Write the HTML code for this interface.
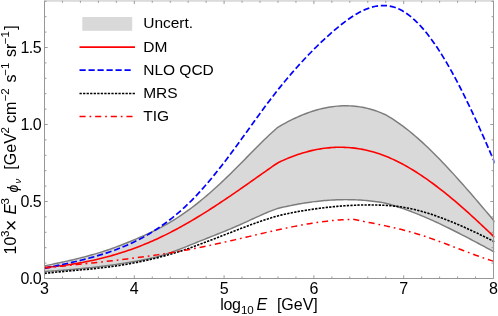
<!DOCTYPE html>
<html><head><meta charset="utf-8"><title>plot</title>
<style>
html,body{margin:0;padding:0;background:#fff;}
body{width:498px;height:316px;overflow:hidden;}
svg{display:block;will-change:transform;}
text{font-family:"Liberation Sans",sans-serif;font-size:16px;fill:#000;}
.it{font-style:italic;}
.lg text{font-size:15.5px;}
</style></head><body>
<svg width="498" height="316" viewBox="0 0 498 316">
<rect width="498" height="316" fill="#fff"/>
<defs><clipPath id="c"><rect x="44.5" y="0" width="450" height="278"/></clipPath></defs>
<g clip-path="url(#c)" fill="none" stroke-linejoin="round">
<path d="M44.50 265.91L47.00 265.39L49.50 264.87L52.00 264.34L54.50 263.82L57.00 263.28L59.50 262.75L62.00 262.20L64.50 261.65L67.00 261.09L69.50 260.52L72.00 259.95L74.50 259.35L77.00 258.75L79.50 258.14L82.00 257.51L84.50 256.86L87.00 256.20L89.50 255.52L92.00 254.82L94.50 254.11L97.00 253.37L99.50 252.61L102.00 251.83L104.50 251.03L107.00 250.20L109.50 249.35L112.00 248.48L114.50 247.58L117.00 246.66L119.50 245.72L122.00 244.76L124.50 243.78L127.00 242.78L129.50 241.76L132.00 240.73L134.50 239.68L137.00 238.61L139.50 237.53L142.00 236.43L144.50 235.32L147.00 234.18L149.50 233.02L152.00 231.83L154.50 230.62L157.00 229.37L159.50 228.09L162.00 226.77L164.50 225.42L167.00 224.03L169.50 222.59L172.00 221.10L174.50 219.57L177.00 217.99L179.50 216.36L182.00 214.67L184.50 212.94L187.00 211.16L189.50 209.34L192.00 207.47L194.50 205.55L197.00 203.60L199.50 201.60L202.00 199.55L204.50 197.47L207.00 195.35L209.50 193.20L212.00 191.00L214.50 188.77L217.00 186.51L219.50 184.21L222.00 181.88L224.50 179.52L227.00 177.12L229.50 174.70L232.00 172.25L234.50 169.78L237.00 167.28L239.50 164.76L242.00 162.22L244.50 159.68L247.00 157.13L249.50 154.58L252.00 152.04L254.50 149.51L257.00 146.99L259.50 144.49L262.00 142.02L264.50 139.57L267.00 137.16L269.50 134.79L272.00 132.46L274.50 130.18L277.00 127.95L277.40 127.60L279.90 126.13L282.40 124.70L284.90 123.31L287.40 121.97L289.90 120.68L292.40 119.44L294.90 118.24L297.40 117.09L299.90 116.00L302.40 114.95L304.90 113.96L307.40 113.02L309.90 112.13L312.40 111.30L314.90 110.52L317.40 109.80L319.90 109.13L322.40 108.52L324.90 107.97L327.40 107.48L329.90 107.05L332.40 106.68L334.90 106.38L337.40 106.13L339.90 105.95L342.40 105.83L344.90 105.78L347.40 105.80L349.90 105.88L352.40 106.02L354.90 106.24L357.40 106.53L359.90 106.88L362.40 107.31L364.90 107.81L367.40 108.38L369.90 109.02L372.40 109.74L374.90 110.53L377.40 111.40L379.90 112.35L382.40 113.37L384.90 114.47L385.40 114.70L387.90 116.13L390.40 117.64L392.90 119.21L395.40 120.86L397.90 122.57L400.40 124.34L402.90 126.17L405.40 128.07L407.90 130.02L410.40 132.03L412.90 134.10L415.40 136.22L417.90 138.40L420.40 140.62L422.90 142.90L425.40 145.22L427.90 147.58L430.40 149.99L432.90 152.44L435.40 154.94L437.90 157.47L440.40 160.03L442.90 162.64L445.40 165.27L447.90 167.94L450.40 170.64L452.90 173.37L455.40 176.12L457.90 178.90L460.40 181.70L462.90 184.52L465.40 187.37L467.90 190.23L470.40 193.10L472.90 196.00L475.40 198.90L477.90 201.82L480.40 204.75L482.90 207.68L485.40 210.62L487.90 213.57L490.40 216.51L492.90 219.46L495.00 221.94L494.50 252.14L492.50 251.06L490.50 249.97L488.50 248.89L486.50 247.81L484.50 246.73L482.50 245.65L480.50 244.57L478.50 243.50L476.50 242.43L474.50 241.37L472.50 240.31L470.50 239.25L468.50 238.20L466.50 237.15L464.50 236.11L462.50 235.07L460.50 234.04L458.50 233.02L456.50 232.00L454.50 230.99L452.50 229.99L450.50 228.99L448.50 228.01L446.50 227.03L444.50 226.06L442.50 225.10L440.50 224.15L438.50 223.21L436.50 222.28L434.50 221.36L432.50 220.45L430.50 219.56L428.50 218.67L426.50 217.80L424.50 216.94L422.50 216.09L420.50 215.26L418.50 214.44L416.50 213.63L414.50 212.83L412.50 212.06L410.50 211.29L408.50 210.54L406.50 209.81L404.50 209.09L402.50 208.39L400.50 207.71L398.50 207.04L396.50 206.39L394.50 205.76L392.50 205.14L390.50 204.55L388.50 203.97L386.50 203.45L384.50 202.99L382.50 202.61L380.50 202.28L378.50 201.98L376.50 201.69L374.50 201.42L372.50 201.18L370.50 200.95L368.50 200.74L366.50 200.55L364.50 200.38L362.50 200.22L360.50 200.09L358.50 199.97L356.50 199.87L354.50 199.79L352.50 199.73L350.50 199.68L348.50 199.66L346.50 199.64L344.50 199.65L342.50 199.67L340.50 199.71L338.50 199.76L336.50 199.84L334.50 199.92L332.50 200.02L330.50 200.14L328.50 200.28L326.50 200.43L324.50 200.59L322.50 200.78L320.50 200.97L318.50 201.18L316.50 201.41L314.50 201.65L312.50 201.90L310.50 202.17L308.50 202.45L306.50 202.75L304.50 203.05L302.50 203.38L300.50 203.71L298.50 204.06L296.50 204.43L294.50 204.80L292.50 205.19L290.50 205.59L288.50 206.00L286.50 206.43L284.50 206.86L282.50 207.31L280.50 207.78L278.50 208.29L276.50 208.89L274.50 209.58L272.50 210.34L270.50 211.13L268.50 211.95L266.50 212.78L264.50 213.63L262.50 214.51L260.50 215.39L258.50 216.29L256.50 217.20L254.50 218.11L252.50 219.03L250.50 219.95L248.50 220.87L246.50 221.79L244.50 222.70L242.50 223.61L240.50 224.50L238.50 225.39L236.50 226.26L234.50 227.13L232.50 227.98L230.50 228.82L228.50 229.66L226.50 230.49L224.50 231.31L222.50 232.12L220.50 232.93L218.50 233.73L216.50 234.53L214.50 235.33L212.50 236.12L210.50 236.92L208.50 237.71L206.50 238.51L204.50 239.30L202.50 240.10L200.50 240.90L198.50 241.70L196.50 242.51L194.50 243.32L192.50 244.13L190.50 244.94L188.50 245.75L186.50 246.55L184.50 247.35L182.50 248.14L180.50 248.93L178.50 249.70L176.50 250.45L174.50 251.19L172.50 251.92L170.50 252.62L168.50 253.30L166.50 253.96L164.50 254.60L162.50 255.20L160.50 255.78L158.50 256.33L156.50 256.86L154.50 257.36L152.50 257.84L150.50 258.30L148.50 258.74L146.50 259.17L144.50 259.58L142.50 259.97L140.50 260.36L138.50 260.73L136.50 261.10L134.50 261.46L132.50 261.81L130.50 262.16L128.50 262.49L126.50 262.82L124.50 263.14L122.50 263.46L120.50 263.76L118.50 264.06L116.50 264.35L114.50 264.64L112.50 264.92L110.50 265.19L108.50 265.46L106.50 265.72L104.50 265.98L102.50 266.23L100.50 266.47L98.50 266.71L96.50 266.94L94.50 267.17L92.50 267.39L90.50 267.61L88.50 267.82L86.50 268.03L84.50 268.23L82.50 268.43L80.50 268.63L78.50 268.82L76.50 269.00L74.50 269.19L72.50 269.37L70.50 269.54L68.50 269.72L66.50 269.89L64.50 270.05L62.50 270.22L60.50 270.38L58.50 270.54L56.50 270.69L54.50 270.85L52.50 271.00L50.50 271.15L48.50 271.30L46.50 271.44L44.50 271.59Z" fill="#d9d9d9" stroke="none"/>
<path d="M44.50 265.91L47.00 265.39L49.50 264.87L52.00 264.34L54.50 263.82L57.00 263.28L59.50 262.75L62.00 262.20L64.50 261.65L67.00 261.09L69.50 260.52L72.00 259.95L74.50 259.35L77.00 258.75L79.50 258.14L82.00 257.51L84.50 256.86L87.00 256.20L89.50 255.52L92.00 254.82L94.50 254.11L97.00 253.37L99.50 252.61L102.00 251.83L104.50 251.03L107.00 250.20L109.50 249.35L112.00 248.48L114.50 247.58L117.00 246.66L119.50 245.72L122.00 244.76L124.50 243.78L127.00 242.78L129.50 241.76L132.00 240.73L134.50 239.68L137.00 238.61L139.50 237.53L142.00 236.43L144.50 235.32L147.00 234.18L149.50 233.02L152.00 231.83L154.50 230.62L157.00 229.37L159.50 228.09L162.00 226.77L164.50 225.42L167.00 224.03L169.50 222.59L172.00 221.10L174.50 219.57L177.00 217.99L179.50 216.36L182.00 214.67L184.50 212.94L187.00 211.16L189.50 209.34L192.00 207.47L194.50 205.55L197.00 203.60L199.50 201.60L202.00 199.55L204.50 197.47L207.00 195.35L209.50 193.20L212.00 191.00L214.50 188.77L217.00 186.51L219.50 184.21L222.00 181.88L224.50 179.52L227.00 177.12L229.50 174.70L232.00 172.25L234.50 169.78L237.00 167.28L239.50 164.76L242.00 162.22L244.50 159.68L247.00 157.13L249.50 154.58L252.00 152.04L254.50 149.51L257.00 146.99L259.50 144.49L262.00 142.02L264.50 139.57L267.00 137.16L269.50 134.79L272.00 132.46L274.50 130.18L277.00 127.95L277.40 127.60L279.90 126.13L282.40 124.70L284.90 123.31L287.40 121.97L289.90 120.68L292.40 119.44L294.90 118.24L297.40 117.09L299.90 116.00L302.40 114.95L304.90 113.96L307.40 113.02L309.90 112.13L312.40 111.30L314.90 110.52L317.40 109.80L319.90 109.13L322.40 108.52L324.90 107.97L327.40 107.48L329.90 107.05L332.40 106.68L334.90 106.38L337.40 106.13L339.90 105.95L342.40 105.83L344.90 105.78L347.40 105.80L349.90 105.88L352.40 106.02L354.90 106.24L357.40 106.53L359.90 106.88L362.40 107.31L364.90 107.81L367.40 108.38L369.90 109.02L372.40 109.74L374.90 110.53L377.40 111.40L379.90 112.35L382.40 113.37L384.90 114.47L385.40 114.70L387.90 116.13L390.40 117.64L392.90 119.21L395.40 120.86L397.90 122.57L400.40 124.34L402.90 126.17L405.40 128.07L407.90 130.02L410.40 132.03L412.90 134.10L415.40 136.22L417.90 138.40L420.40 140.62L422.90 142.90L425.40 145.22L427.90 147.58L430.40 149.99L432.90 152.44L435.40 154.94L437.90 157.47L440.40 160.03L442.90 162.64L445.40 165.27L447.90 167.94L450.40 170.64L452.90 173.37L455.40 176.12L457.90 178.90L460.40 181.70L462.90 184.52L465.40 187.37L467.90 190.23L470.40 193.10L472.90 196.00L475.40 198.90L477.90 201.82L480.40 204.75L482.90 207.68L485.40 210.62L487.90 213.57L490.40 216.51L492.90 219.46L495.00 221.94" stroke="#7c7c7c" stroke-width="1.45"/>
<path d="M44.50 271.59L46.50 271.44L48.50 271.30L50.50 271.15L52.50 271.00L54.50 270.85L56.50 270.69L58.50 270.54L60.50 270.38L62.50 270.22L64.50 270.05L66.50 269.89L68.50 269.72L70.50 269.54L72.50 269.37L74.50 269.19L76.50 269.00L78.50 268.82L80.50 268.63L82.50 268.43L84.50 268.23L86.50 268.03L88.50 267.82L90.50 267.61L92.50 267.39L94.50 267.17L96.50 266.94L98.50 266.71L100.50 266.47L102.50 266.23L104.50 265.98L106.50 265.72L108.50 265.46L110.50 265.19L112.50 264.92L114.50 264.64L116.50 264.35L118.50 264.06L120.50 263.76L122.50 263.46L124.50 263.14L126.50 262.82L128.50 262.49L130.50 262.16L132.50 261.81L134.50 261.46L136.50 261.10L138.50 260.73L140.50 260.36L142.50 259.97L144.50 259.58L146.50 259.17L148.50 258.74L150.50 258.30L152.50 257.84L154.50 257.36L156.50 256.86L158.50 256.33L160.50 255.78L162.50 255.20L164.50 254.60L166.50 253.96L168.50 253.30L170.50 252.62L172.50 251.92L174.50 251.19L176.50 250.45L178.50 249.70L180.50 248.93L182.50 248.14L184.50 247.35L186.50 246.55L188.50 245.75L190.50 244.94L192.50 244.13L194.50 243.32L196.50 242.51L198.50 241.70L200.50 240.90L202.50 240.10L204.50 239.30L206.50 238.51L208.50 237.71L210.50 236.92L212.50 236.12L214.50 235.33L216.50 234.53L218.50 233.73L220.50 232.93L222.50 232.12L224.50 231.31L226.50 230.49L228.50 229.66L230.50 228.82L232.50 227.98L234.50 227.13L236.50 226.26L238.50 225.39L240.50 224.50L242.50 223.61L244.50 222.70L246.50 221.79L248.50 220.87L250.50 219.95L252.50 219.03L254.50 218.11L256.50 217.20L258.50 216.29L260.50 215.39L262.50 214.51L264.50 213.63L266.50 212.78L268.50 211.95L270.50 211.13L272.50 210.34L274.50 209.58L276.50 208.89L278.50 208.29L280.50 207.78L282.50 207.31L284.50 206.86L286.50 206.43L288.50 206.00L290.50 205.59L292.50 205.19L294.50 204.80L296.50 204.43L298.50 204.06L300.50 203.71L302.50 203.38L304.50 203.05L306.50 202.75L308.50 202.45L310.50 202.17L312.50 201.90L314.50 201.65L316.50 201.41L318.50 201.18L320.50 200.97L322.50 200.78L324.50 200.59L326.50 200.43L328.50 200.28L330.50 200.14L332.50 200.02L334.50 199.92L336.50 199.84L338.50 199.76L340.50 199.71L342.50 199.67L344.50 199.65L346.50 199.64L348.50 199.66L350.50 199.68L352.50 199.73L354.50 199.79L356.50 199.87L358.50 199.97L360.50 200.09L362.50 200.22L364.50 200.38L366.50 200.55L368.50 200.74L370.50 200.95L372.50 201.18L374.50 201.42L376.50 201.69L378.50 201.98L380.50 202.28L382.50 202.61L384.50 202.99L386.50 203.45L388.50 203.97L390.50 204.55L392.50 205.14L394.50 205.76L396.50 206.39L398.50 207.04L400.50 207.71L402.50 208.39L404.50 209.09L406.50 209.81L408.50 210.54L410.50 211.29L412.50 212.06L414.50 212.83L416.50 213.63L418.50 214.44L420.50 215.26L422.50 216.09L424.50 216.94L426.50 217.80L428.50 218.67L430.50 219.56L432.50 220.45L434.50 221.36L436.50 222.28L438.50 223.21L440.50 224.15L442.50 225.10L444.50 226.06L446.50 227.03L448.50 228.01L450.50 228.99L452.50 229.99L454.50 230.99L456.50 232.00L458.50 233.02L460.50 234.04L462.50 235.07L464.50 236.11L466.50 237.15L468.50 238.20L470.50 239.25L472.50 240.31L474.50 241.37L476.50 242.43L478.50 243.50L480.50 244.57L482.50 245.65L484.50 246.73L486.50 247.81L488.50 248.89L490.50 249.97L492.50 251.06L494.50 252.14" stroke="#7c7c7c" stroke-width="1.45"/>
<path d="M44.50 267.40L46.50 267.23L48.50 267.06L50.50 266.87L52.50 266.68L54.50 266.48L56.50 266.26L58.50 266.04L60.50 265.80L62.50 265.55L64.50 265.29L66.50 265.02L68.50 264.74L70.50 264.44L72.50 264.14L74.50 263.82L76.50 263.49L78.50 263.15L80.50 262.79L82.50 262.43L84.50 262.05L86.50 261.66L88.50 261.25L90.50 260.84L92.50 260.41L94.50 259.97L96.50 259.51L98.50 259.04L100.50 258.56L102.50 258.06L104.50 257.55L106.50 257.03L108.50 256.49L110.50 255.94L112.50 255.38L114.50 254.80L116.50 254.20L118.50 253.59L120.50 252.97L122.50 252.33L124.50 251.68L126.50 251.02L128.50 250.33L130.50 249.64L132.50 248.92L134.50 248.20L136.50 247.45L138.50 246.69L140.50 245.92L142.50 245.13L144.50 244.32L146.50 243.50L148.50 242.66L150.50 241.81L152.50 240.94L154.50 240.05L156.50 239.15L158.50 238.23L160.50 237.29L162.50 236.33L164.50 235.36L166.50 234.37L168.50 233.37L170.50 232.35L172.50 231.31L174.50 230.26L176.50 229.19L178.50 228.11L180.50 227.02L182.50 225.91L184.50 224.78L186.50 223.64L188.50 222.49L190.50 221.33L192.50 220.15L194.50 218.96L196.50 217.76L198.50 216.55L200.50 215.32L202.50 214.09L204.50 212.84L206.50 211.59L208.50 210.32L210.50 209.04L212.50 207.75L214.50 206.46L216.50 205.15L218.50 203.84L220.50 202.52L222.50 201.19L224.50 199.85L226.50 198.51L228.50 197.15L230.50 195.79L232.50 194.43L234.50 193.06L236.50 191.68L238.50 190.30L240.50 188.91L242.50 187.52L244.50 186.12L246.50 184.72L248.50 183.31L250.50 181.91L252.50 180.50L254.50 179.09L256.50 177.68L258.50 176.26L260.50 174.85L262.50 173.44L264.50 172.03L266.50 170.62L268.50 169.22L270.50 167.81L272.50 166.41L274.50 165.03L276.50 163.73L278.50 162.56L280.50 161.54L282.50 160.61L284.50 159.72L286.50 158.86L288.50 158.03L290.50 157.22L292.50 156.45L294.50 155.71L296.50 155.00L298.50 154.32L300.50 153.66L302.50 153.04L304.50 152.45L306.50 151.90L308.50 151.37L310.50 150.87L312.50 150.40L314.50 149.97L316.50 149.57L318.50 149.20L320.50 148.86L322.50 148.55L324.50 148.28L326.50 148.04L328.50 147.83L330.50 147.65L332.50 147.51L334.50 147.40L336.50 147.32L338.50 147.27L340.50 147.26L342.50 147.28L344.50 147.34L346.50 147.43L348.50 147.55L350.50 147.71L352.50 147.90L354.50 148.13L356.50 148.39L358.50 148.69L360.50 149.01L362.50 149.38L364.50 149.78L366.50 150.22L368.50 150.69L370.50 151.19L372.50 151.73L374.50 152.31L376.50 152.92L378.50 153.57L380.50 154.26L382.50 154.98L384.50 155.74L386.50 156.53L388.50 157.36L390.50 158.22L392.50 159.11L394.50 160.04L396.50 161.00L398.50 161.99L400.50 163.01L402.50 164.07L404.50 165.15L406.50 166.27L408.50 167.42L410.50 168.59L412.50 169.79L414.50 171.02L416.50 172.28L418.50 173.57L420.50 174.88L422.50 176.21L424.50 177.57L426.50 178.96L428.50 180.38L430.50 181.81L432.50 183.27L434.50 184.75L436.50 186.26L438.50 187.78L440.50 189.33L442.50 190.90L444.50 192.49L446.50 194.10L448.50 195.72L450.50 197.37L452.50 199.03L454.50 200.72L456.50 202.42L458.50 204.13L460.50 205.86L462.50 207.61L464.50 209.38L466.50 211.16L468.50 212.95L470.50 214.75L472.50 216.57L474.50 218.40L476.50 220.25L478.50 222.10L480.50 223.97L482.50 225.85L484.50 227.73L486.50 229.63L488.50 231.54L490.50 233.45L492.50 235.37L494.50 237.30" stroke="#ff0000" stroke-width="1.6"/>
<path d="M44.50 268.43L47.00 267.88L49.50 267.33L52.00 266.78L54.50 266.23L57.00 265.69L59.50 265.14L62.00 264.60L64.50 264.04L67.00 263.49L69.50 262.92L72.00 262.35L74.50 261.77L77.00 261.18L79.50 260.58L82.00 259.97L84.50 259.34L87.00 258.69L89.50 258.03L92.00 257.35L94.50 256.65L97.00 255.93L99.50 255.19L102.00 254.43L104.50 253.64L107.00 252.82L109.50 251.98L112.00 251.10L114.50 250.20L117.00 249.27L119.50 248.30L122.00 247.30L124.50 246.26L127.00 245.19L129.50 244.08L132.00 242.92L134.50 241.73L137.00 240.50L139.50 239.22L142.00 237.90L144.50 236.53L147.00 235.12L149.50 233.65L152.00 232.14L154.50 230.58L157.00 228.96L159.50 227.29L162.00 225.56L164.50 223.78L167.00 221.93L169.50 220.03L172.00 218.07L174.50 216.05L177.00 213.96L179.50 211.81L182.00 209.59L184.50 207.31L187.00 204.96L189.50 202.53L192.00 200.04L194.50 197.47L197.00 194.84L199.50 192.14L202.00 189.37L204.50 186.54L207.00 183.65L209.50 180.70L212.00 177.70L214.50 174.65L217.00 171.55L219.50 168.40L222.00 165.20L224.50 161.97L227.00 158.69L229.50 155.38L232.00 152.03L234.50 148.65L237.00 145.25L239.50 141.82L242.00 138.37L244.50 134.90L247.00 131.43L249.50 127.96L252.00 124.48L254.50 121.02L257.00 117.57L259.50 114.13L262.00 110.72L264.50 107.33L267.00 103.98L269.50 100.66L272.00 97.39L274.50 94.16L277.00 90.98L279.50 87.85L282.00 84.76L284.50 81.72L287.00 78.73L289.50 75.78L292.00 72.87L294.50 70.01L297.00 67.20L299.50 64.43L302.00 61.70L304.50 59.02L307.00 56.38L309.50 53.78L312.00 51.23L314.50 48.72L317.00 46.25L319.50 43.83L322.00 41.45L324.50 39.10L327.00 36.81L329.50 34.55L332.00 32.33L334.50 30.16L337.00 28.04L339.50 25.98L342.00 23.99L344.50 22.06L347.00 20.21L349.50 18.44L352.00 16.75L354.50 15.16L357.00 13.67L359.50 12.29L362.00 11.02L364.50 9.86L367.00 8.83L369.50 7.92L372.00 7.15L374.50 6.52L377.00 6.04L379.50 5.71L382.00 5.54L384.50 5.54L387.00 5.70L389.50 6.04L392.00 6.57L394.50 7.28L397.00 8.19L399.50 9.29L402.00 10.59L404.50 12.08L407.00 13.76L409.50 15.62L412.00 17.67L414.50 19.89L417.00 22.29L419.50 24.86L422.00 27.59L424.50 30.49L427.00 33.55L429.50 36.77L432.00 40.14L434.50 43.66L437.00 47.32L439.50 51.13L442.00 55.08L444.50 59.17L447.00 63.38L449.50 67.72L452.00 72.19L454.50 76.77L457.00 81.46L459.50 86.26L462.00 91.17L464.50 96.17L467.00 101.27L469.50 106.45L472.00 111.72L474.50 117.06L477.00 122.48L479.50 127.98L482.00 133.53L484.50 139.15L487.00 144.82L489.50 150.54L492.00 156.31L494.50 162.12L495.00 163.28" stroke="#0000ff" stroke-width="1.7" stroke-dasharray="6.2 2.8"/>
<path d="M44.50 273.41L47.00 273.12L49.50 272.84L52.00 272.58L54.50 272.32L57.00 272.07L59.50 271.83L62.00 271.60L64.50 271.37L67.00 271.14L69.50 270.91L72.00 270.69L74.50 270.47L77.00 270.25L79.50 270.03L82.00 269.80L84.50 269.57L87.00 269.34L89.50 269.10L92.00 268.85L94.50 268.60L97.00 268.33L99.50 268.06L102.00 267.78L104.50 267.48L107.00 267.17L109.50 266.85L112.00 266.51L114.50 266.16L117.00 265.80L119.50 265.42L122.00 265.02L124.50 264.61L127.00 264.19L129.50 263.75L132.00 263.30L134.50 262.82L137.00 262.34L139.50 261.84L142.00 261.32L144.50 260.78L147.00 260.23L149.50 259.66L152.00 259.07L154.50 258.47L157.00 257.85L159.50 257.21L162.00 256.55L164.50 255.87L167.00 255.18L169.50 254.47L172.00 253.74L174.50 252.99L177.00 252.22L179.50 251.43L182.00 250.62L184.50 249.79L187.00 248.95L189.50 248.08L192.00 247.20L194.50 246.30L197.00 245.39L199.50 244.46L202.00 243.53L204.50 242.58L207.00 241.63L209.50 240.67L212.00 239.70L214.50 238.74L217.00 237.77L219.50 236.79L222.00 235.82L224.50 234.85L227.00 233.87L229.50 232.90L232.00 231.93L234.50 230.97L237.00 230.01L239.50 229.05L242.00 228.10L244.50 227.15L247.00 226.21L249.50 225.28L252.00 224.36L254.50 223.45L257.00 222.55L259.50 221.67L262.00 220.80L264.50 219.96L267.00 219.14L269.50 218.34L272.00 217.58L274.50 216.84L277.00 216.15L279.50 215.49L282.00 214.86L284.50 214.28L287.00 213.72L289.50 213.19L292.00 212.69L294.50 212.22L297.00 211.76L299.50 211.32L302.00 210.90L304.50 210.49L307.00 210.10L309.50 209.71L312.00 209.34L314.50 208.98L317.00 208.64L319.50 208.31L322.00 207.99L324.50 207.69L327.00 207.40L329.50 207.13L332.00 206.87L334.50 206.63L337.00 206.40L339.50 206.19L342.00 205.99L344.50 205.81L347.00 205.65L349.50 205.50L352.00 205.36L354.50 205.25L357.00 205.15L359.50 205.07L362.00 205.00L364.50 204.96L367.00 204.93L369.50 204.92L372.00 204.93L374.50 204.96L377.00 205.01L379.50 205.08L382.00 205.18L384.50 205.31L387.00 205.46L389.50 205.65L392.00 205.86L394.50 206.11L397.00 206.40L399.50 206.72L402.00 207.08L404.50 207.48L407.00 207.92L409.50 208.41L412.00 208.94L414.50 209.51L417.00 210.12L419.50 210.76L422.00 211.45L424.50 212.17L427.00 212.92L429.50 213.71L432.00 214.53L434.50 215.38L437.00 216.25L439.50 217.16L442.00 218.08L444.50 219.03L447.00 220.01L449.50 221.00L452.00 222.02L454.50 223.05L457.00 224.10L459.50 225.17L462.00 226.25L464.50 227.35L467.00 228.47L469.50 229.60L472.00 230.75L474.50 231.92L477.00 233.09L479.50 234.28L482.00 235.49L484.50 236.71L487.00 237.94L489.50 239.18L492.00 240.43L494.50 241.70" stroke="#000" stroke-width="1.6" stroke-dasharray="2.3 1.24"/>
<path d="M44.50 268.04L47.00 267.76L49.50 267.49L52.00 267.21L54.50 266.94L57.00 266.68L59.50 266.41L62.00 266.14L64.50 265.88L67.00 265.61L69.50 265.35L72.00 265.09L74.50 264.82L77.00 264.56L79.50 264.30L82.00 264.03L84.50 263.77L87.00 263.50L89.50 263.24L92.00 262.97L94.50 262.70L97.00 262.43L99.50 262.16L102.00 261.88L104.50 261.60L107.00 261.33L109.50 261.04L112.00 260.76L114.50 260.47L117.00 260.18L119.50 259.88L122.00 259.58L124.50 259.28L127.00 258.97L129.50 258.66L132.00 258.34L134.50 258.02L137.00 257.69L139.50 257.36L142.00 257.02L144.50 256.68L147.00 256.33L149.50 255.98L152.00 255.62L154.50 255.25L157.00 254.88L159.50 254.50L162.00 254.11L164.50 253.72L167.00 253.33L169.50 252.92L172.00 252.51L174.50 252.09L177.00 251.67L179.50 251.24L182.00 250.80L184.50 250.35L187.00 249.90L189.50 249.43L192.00 248.96L194.50 248.49L197.00 248.00L199.50 247.51L202.00 247.01L204.50 246.50L207.00 245.98L209.50 245.46L212.00 244.93L214.50 244.39L217.00 243.85L219.50 243.30L222.00 242.75L224.50 242.18L227.00 241.62L229.50 241.05L232.00 240.47L234.50 239.89L237.00 239.31L239.50 238.73L242.00 238.14L244.50 237.55L247.00 236.96L249.50 236.37L252.00 235.78L254.50 235.20L257.00 234.61L259.50 234.03L262.00 233.44L264.50 232.87L267.00 232.29L269.50 231.72L272.00 231.15L274.50 230.59L277.00 230.04L279.50 229.49L282.00 228.95L284.50 228.42L287.00 227.89L289.50 227.38L292.00 226.87L294.50 226.37L297.00 225.89L299.50 225.41L302.00 224.95L304.50 224.50L307.00 224.06L309.50 223.64L312.00 223.24L314.50 222.84L317.00 222.47L319.50 222.11L322.00 221.77L324.50 221.45L327.00 221.15L329.50 220.86L332.00 220.60L334.50 220.36L337.00 220.14L339.50 219.94L342.00 219.77L344.50 219.62L347.00 219.50L349.50 219.40L352.00 219.32L353.20 219.30L355.70 219.83L358.20 220.35L360.70 220.86L363.20 221.36L365.70 221.86L368.20 222.35L370.70 222.84L373.20 223.33L375.70 223.82L378.20 224.32L380.70 224.83L383.20 225.35L385.70 225.88L388.20 226.42L390.70 226.97L393.20 227.55L395.70 228.13L398.20 228.73L400.70 229.35L403.20 229.99L405.70 230.64L408.20 231.32L410.70 232.01L413.20 232.73L415.70 233.46L418.20 234.22L420.70 235.00L423.20 235.81L425.70 236.63L428.20 237.48L430.70 238.34L433.20 239.22L435.70 240.12L438.20 241.03L440.70 241.95L443.20 242.88L445.70 243.82L448.20 244.77L450.70 245.72L453.20 246.68L455.70 247.63L458.20 248.59L460.70 249.55L463.20 250.50L465.70 251.45L468.20 252.40L470.70 253.33L473.20 254.26L475.70 255.18L478.20 256.08L480.70 256.97L483.20 257.84L485.70 258.70L488.20 259.54L490.70 260.35L493.20 261.15L494.50 261.55" stroke="#ff0000" stroke-width="1.5" stroke-dasharray="6.1 3.9 1.75 3.9"/>
</g>
<rect x="44" y="0" width="450" height="1.8" fill="#dbdbdb"/>
<path d="M44.5 1V278.5H493.5V1" stroke="#969696" stroke-width="1" fill="none"/>
<g stroke="#9a9a9a" stroke-width="1" fill="none">
<line x1="44.50" y1="278.50" x2="44.50" y2="275.30"/><line x1="44.50" y1="0.80" x2="44.50" y2="4.00"/><line x1="62.46" y1="278.50" x2="62.46" y2="276.50"/><line x1="62.46" y1="0.80" x2="62.46" y2="2.80"/><line x1="80.42" y1="278.50" x2="80.42" y2="276.50"/><line x1="80.42" y1="0.80" x2="80.42" y2="2.80"/><line x1="98.38" y1="278.50" x2="98.38" y2="276.50"/><line x1="98.38" y1="0.80" x2="98.38" y2="2.80"/><line x1="116.34" y1="278.50" x2="116.34" y2="276.50"/><line x1="116.34" y1="0.80" x2="116.34" y2="2.80"/><line x1="134.30" y1="278.50" x2="134.30" y2="275.30"/><line x1="134.30" y1="0.80" x2="134.30" y2="4.00"/><line x1="152.26" y1="278.50" x2="152.26" y2="276.50"/><line x1="152.26" y1="0.80" x2="152.26" y2="2.80"/><line x1="170.22" y1="278.50" x2="170.22" y2="276.50"/><line x1="170.22" y1="0.80" x2="170.22" y2="2.80"/><line x1="188.18" y1="278.50" x2="188.18" y2="276.50"/><line x1="188.18" y1="0.80" x2="188.18" y2="2.80"/><line x1="206.14" y1="278.50" x2="206.14" y2="276.50"/><line x1="206.14" y1="0.80" x2="206.14" y2="2.80"/><line x1="224.10" y1="278.50" x2="224.10" y2="275.30"/><line x1="224.10" y1="0.80" x2="224.10" y2="4.00"/><line x1="242.06" y1="278.50" x2="242.06" y2="276.50"/><line x1="242.06" y1="0.80" x2="242.06" y2="2.80"/><line x1="260.02" y1="278.50" x2="260.02" y2="276.50"/><line x1="260.02" y1="0.80" x2="260.02" y2="2.80"/><line x1="277.98" y1="278.50" x2="277.98" y2="276.50"/><line x1="277.98" y1="0.80" x2="277.98" y2="2.80"/><line x1="295.94" y1="278.50" x2="295.94" y2="276.50"/><line x1="295.94" y1="0.80" x2="295.94" y2="2.80"/><line x1="313.90" y1="278.50" x2="313.90" y2="275.30"/><line x1="313.90" y1="0.80" x2="313.90" y2="4.00"/><line x1="331.86" y1="278.50" x2="331.86" y2="276.50"/><line x1="331.86" y1="0.80" x2="331.86" y2="2.80"/><line x1="349.82" y1="278.50" x2="349.82" y2="276.50"/><line x1="349.82" y1="0.80" x2="349.82" y2="2.80"/><line x1="367.78" y1="278.50" x2="367.78" y2="276.50"/><line x1="367.78" y1="0.80" x2="367.78" y2="2.80"/><line x1="385.74" y1="278.50" x2="385.74" y2="276.50"/><line x1="385.74" y1="0.80" x2="385.74" y2="2.80"/><line x1="403.70" y1="278.50" x2="403.70" y2="275.30"/><line x1="403.70" y1="0.80" x2="403.70" y2="4.00"/><line x1="421.66" y1="278.50" x2="421.66" y2="276.50"/><line x1="421.66" y1="0.80" x2="421.66" y2="2.80"/><line x1="439.62" y1="278.50" x2="439.62" y2="276.50"/><line x1="439.62" y1="0.80" x2="439.62" y2="2.80"/><line x1="457.58" y1="278.50" x2="457.58" y2="276.50"/><line x1="457.58" y1="0.80" x2="457.58" y2="2.80"/><line x1="475.54" y1="278.50" x2="475.54" y2="276.50"/><line x1="475.54" y1="0.80" x2="475.54" y2="2.80"/><line x1="493.50" y1="278.50" x2="493.50" y2="275.30"/><line x1="493.50" y1="0.80" x2="493.50" y2="4.00"/><line x1="44.50" y1="278.50" x2="47.70" y2="278.50"/><line x1="493.50" y1="278.50" x2="490.30" y2="278.50"/><line x1="44.50" y1="263.10" x2="46.50" y2="263.10"/><line x1="493.50" y1="263.10" x2="491.50" y2="263.10"/><line x1="44.50" y1="247.70" x2="46.50" y2="247.70"/><line x1="493.50" y1="247.70" x2="491.50" y2="247.70"/><line x1="44.50" y1="232.30" x2="46.50" y2="232.30"/><line x1="493.50" y1="232.30" x2="491.50" y2="232.30"/><line x1="44.50" y1="216.90" x2="46.50" y2="216.90"/><line x1="493.50" y1="216.90" x2="491.50" y2="216.90"/><line x1="44.50" y1="201.50" x2="47.70" y2="201.50"/><line x1="493.50" y1="201.50" x2="490.30" y2="201.50"/><line x1="44.50" y1="186.10" x2="46.50" y2="186.10"/><line x1="493.50" y1="186.10" x2="491.50" y2="186.10"/><line x1="44.50" y1="170.70" x2="46.50" y2="170.70"/><line x1="493.50" y1="170.70" x2="491.50" y2="170.70"/><line x1="44.50" y1="155.30" x2="46.50" y2="155.30"/><line x1="493.50" y1="155.30" x2="491.50" y2="155.30"/><line x1="44.50" y1="139.90" x2="46.50" y2="139.90"/><line x1="493.50" y1="139.90" x2="491.50" y2="139.90"/><line x1="44.50" y1="124.50" x2="47.70" y2="124.50"/><line x1="493.50" y1="124.50" x2="490.30" y2="124.50"/><line x1="44.50" y1="109.10" x2="46.50" y2="109.10"/><line x1="493.50" y1="109.10" x2="491.50" y2="109.10"/><line x1="44.50" y1="93.70" x2="46.50" y2="93.70"/><line x1="493.50" y1="93.70" x2="491.50" y2="93.70"/><line x1="44.50" y1="78.30" x2="46.50" y2="78.30"/><line x1="493.50" y1="78.30" x2="491.50" y2="78.30"/><line x1="44.50" y1="62.90" x2="46.50" y2="62.90"/><line x1="493.50" y1="62.90" x2="491.50" y2="62.90"/><line x1="44.50" y1="47.50" x2="47.70" y2="47.50"/><line x1="493.50" y1="47.50" x2="490.30" y2="47.50"/><line x1="44.50" y1="32.10" x2="46.50" y2="32.10"/><line x1="493.50" y1="32.10" x2="491.50" y2="32.10"/><line x1="44.50" y1="16.70" x2="46.50" y2="16.70"/><line x1="493.50" y1="16.70" x2="491.50" y2="16.70"/><line x1="44.50" y1="1.30" x2="46.50" y2="1.30"/><line x1="493.50" y1="1.30" x2="491.50" y2="1.30"/>
</g>
<g><text x="44.50" y="293.7" text-anchor="middle">3</text><text x="134.30" y="293.7" text-anchor="middle">4</text><text x="224.10" y="293.7" text-anchor="middle">5</text><text x="313.90" y="293.7" text-anchor="middle">6</text><text x="403.70" y="293.7" text-anchor="middle">7</text><text x="493.50" y="293.7" text-anchor="middle">8</text><text x="41.3" y="284.30" text-anchor="end" style="letter-spacing:-0.45px">0.0</text><text x="41.3" y="207.30" text-anchor="end" style="letter-spacing:-0.45px">0.5</text><text x="41.3" y="130.30" text-anchor="end" style="letter-spacing:-0.45px">1.0</text><text x="41.3" y="53.30" text-anchor="end" style="letter-spacing:-0.45px">1.5</text></g>
<!-- legend -->
<rect x="82.3" y="17" width="49.9" height="13.8" fill="#d9d9d9"/>
<g fill="none">
<line x1="79.5" y1="47.1" x2="135" y2="47.1" stroke="#ff0000" stroke-width="1.6"/>
<line x1="79.5" y1="70.2" x2="133" y2="70.2" stroke="#0000ff" stroke-width="1.7" stroke-dasharray="6.2 2.8"/>
<line x1="79.5" y1="93.5" x2="135.2" y2="93.5" stroke="#000" stroke-width="1.6" stroke-dasharray="2.3 1.24"/>
<line x1="79.5" y1="116.6" x2="135" y2="116.6" stroke="#ff0000" stroke-width="1.5" stroke-dasharray="6.1 3.9 1.75 3.9"/>
</g>
<g class="lg">
<text x="143.2" y="28">Uncert.</text>
<text x="143.2" y="52">DM</text>
<text x="143.2" y="75">NLO QCD</text>
<text x="143.2" y="98">MRS</text>
<text x="143.2" y="121">TIG</text>
</g>
<!-- x label -->
<text x="220.2" y="310" style="letter-spacing:-0.35px">log</text>
<text x="240.9" y="313.8" style="font-size:11.6px;letter-spacing:-0.2px">10</text>
<text x="256.4" y="310" class="it">E</text>
<text x="276.9" y="310">[GeV]</text>
<!-- y label -->
<g transform="translate(16.2,254.0) rotate(-90)"><text x="-0.52" y="0">10</text><text x="16.95" y="-7" style="font-size:11.5px">3</text><text x="23.06" y="2.2" style="font-size:19.5px">×</text><text x="39.51" y="0" style="font-style:italic">E</text><text x="49.60" y="-7" style="font-size:11.5px">3</text><text x="61.47" y="1.8" style="font-style:italic;font-size:14px">ϕ</text><text x="70.62" y="4.6" style="font-style:italic;font-size:9.5px">ν</text><text x="84.38" y="0">[GeV</text><text x="120.56" y="-7" style="font-size:11.5px">2</text><text x="130.95" y="0">cm</text><text x="152.67" y="-7" style="font-size:11.5px">−2</text><text x="171.44" y="0">s</text><text x="178.25" y="-7" style="font-size:11.5px">−1</text><text x="196.93" y="0">sr</text><text x="209.80" y="-7" style="font-size:11.5px">−1</text><text x="224.36" y="0">]</text></g>
</svg>
</body></html>
